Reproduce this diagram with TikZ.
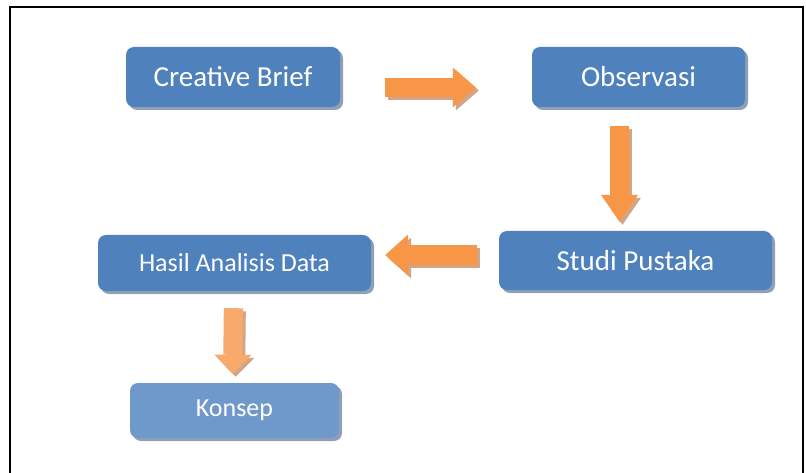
\documentclass[tikz,border=0pt]{standalone}
\usepackage{fontspec}
\setmainfont{Carlito}
\usetikzlibrary{positioning, arrows.meta, shadows}

\definecolor{boxblue}{HTML}{4F81BD}
\definecolor{boxlight}{HTML}{7099CB}
\definecolor{boxshade}{HTML}{8FA0B4}
\definecolor{arroworange}{HTML}{F79646}
\definecolor{arrowlight}{HTML}{F8AA6C}
\definecolor{arrowshade}{HTML}{D3A585}

\tikzset{
	box/.style={rectangle, rounded corners=8pt, fill=boxblue, text=white, inner sep=0pt,
		drop shadow={shadow xshift=3pt, shadow yshift=-3pt, fill=boxshade, opacity=1}},
	big/.style={font=\fontsize{29}{34}\selectfont},
	small/.style={font=\fontsize{26}{31}\selectfont},
	fat/.style 2 args={line width=19pt, -{Triangle[length=#1, width=#2, line width=0pt]}}
}

\begin{document}
\begin{tikzpicture}[x=1pt, y=-1pt, on grid]
			\useasboundingbox (0,0) rectangle (806,473);
			\draw[line width=2pt] (10,480) -- (10,7.5) -- (803,7.5) -- (803,480);

			\node[box, big, minimum width=214pt, minimum height=60pt] (brief) at (233,77) {Creative Brief};
			\node[box, big, minimum width=213pt, minimum height=60pt, right=405.5pt of brief] (obs) {Observasi};
			\node[box, big, minimum width=273pt, minimum height=59pt, below left=183.5pt and 3pt of obs] (studi) {Studi Pustaka};
			\node[box, small, minimum width=273pt, minimum height=56pt, below left=2.5pt and 401pt of studi] (hasil) {Hasil Analisis Data};
			\node[box, small, fill=boxlight, minimum width=209pt, minimum height=55pt, below=147.5pt of hasil] (konsep) {Konsep};

			% shadow first, then the arrow itself
			\foreach \d/\c/\l in {3/arrowshade/arrowshade, 0/arroworange/arrowlight} {
				\begin{scope}[transform canvas={xshift=\d pt, yshift=-\d pt}]
					\draw[fat={23pt}{40pt}, draw=\c, shorten <=45pt, shorten >=56pt]
						([yshift=-10.5pt]brief.east) -- ([yshift=-10.5pt]obs.west);
					\draw[fat={27pt}{37pt}, draw=\c, shorten <=19pt, shorten >=9pt]
						([xshift=-19pt]obs.south) -- ([xshift=-16pt]studi.north);
					\draw[fat={23pt}{41pt}, draw=\c, shorten <=22pt, shorten >=14pt]
						([yshift=5.5pt]studi.west) -- ([yshift=8pt]hasil.east);
					\draw[fat={19pt}{37pt}, draw=\l, shorten <=17pt, shorten >=9pt]
						([xshift=-1pt]hasil.south) -- ([xshift=-2pt]konsep.north);
				\end{scope}
			}
		\end{tikzpicture}
\end{document}
